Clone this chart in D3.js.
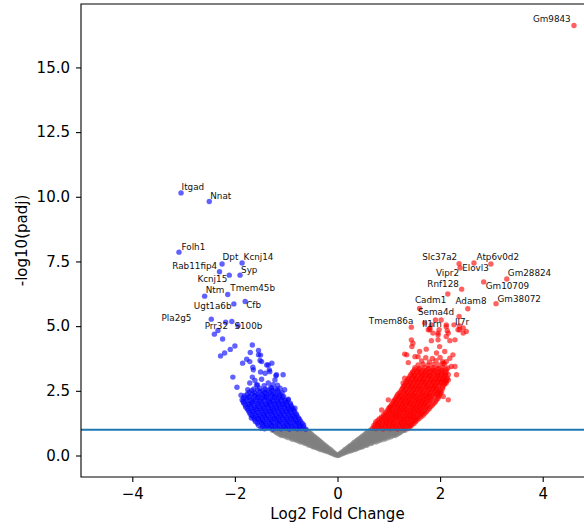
<!DOCTYPE html>
<html>
<head>
<meta charset="utf-8">
<script src="https://cdn.jsdelivr.net/npm/d3@7"></script>
<style>
body{margin:0;background:#fff;}
text{font-family:"DejaVu Sans",sans-serif;}
</style>
</head>
<body>
<div id="chart"></div>
<script>
// labelled genes (log2 fold change, -log10 padj, text position in data units)
var downNames=["Itgad","Nnat","Folh1","Dpt","Kcnj14","Rab11fip4","Syp","Kcnj15","Ntm","Tmem45b","Ugt1a6b","Cfb","Pla2g5","Prr32","S100b"];
var downLfc=[-3.05,-2.50,-3.09,-2.25,-1.86,-2.30,-1.90,-2.11,-2.59,-2.14,-2.02,-1.80,-2.46,-2.18,-2.06];
var downNlp=[10.15,9.82,7.86,7.40,7.44,7.10,6.97,6.97,6.16,6.22,5.86,5.95,5.27,5.15,5.18];
var downTextX=[-3.04,-2.48,-3.04,-2.24,-1.83,-3.22,-1.88,-2.73,-2.57,-2.09,-2.80,-1.78,-3.43,-2.59,-2.01];
var downTextY=[10.27,9.92,7.95,7.54,7.54,7.20,7.07,6.72,6.28,6.34,5.67,5.70,5.18,4.90,4.90];

var upNames=["Gm9843","Slc37a2","Atp6v0d2","Elovl3","Vipr2","Gm28824","Rnf128","Gm10709","Cadm1","Adam8","Gm38072","Sema4d","Tmem86a","Il1rn","Il7r"];
var upLfc=[4.61,2.37,2.99,2.66,2.39,3.30,2.42,2.85,2.15,2.54,3.09,1.60,1.44,2.02,2.45];
var upNlp=[16.62,7.41,7.40,7.44,7.25,6.82,6.43,6.71,6.24,5.67,5.87,5.68,4.96,5.24,4.93];
var upTextX=[3.81,1.65,2.71,2.43,1.92,3.32,1.75,2.89,1.51,2.30,3.12,1.57,0.61,1.65,2.29];
var upTextY=[16.74,7.54,7.54,7.14,6.92,6.92,6.53,6.44,5.89,5.85,5.94,5.44,5.08,4.96,5.05];

// not significant genes [lfc, -log10 padj]
var nsGenes=[
[0.00,0.00],[0.01,0.01],
[-0.04,0.04],[-0.05,0.03],[-0.07,0.10],[-0.11,0.09],[-0.14,0.11],
[-0.11,0.17],[-0.16,0.16],[-0.21,0.18],[-0.24,0.17],
[-0.15,0.24],[-0.20,0.23],[-0.25,0.25],[-0.30,0.24],[-0.34,0.23],
[-0.20,0.31],[-0.25,0.30],[-0.30,0.32],[-0.35,0.31],[-0.40,0.30],[-0.44,0.32],
[-0.24,0.38],[-0.30,0.37],[-0.36,0.39],[-0.42,0.38],[-0.48,0.37],[-0.53,0.39],
[-0.28,0.45],[-0.35,0.44],[-0.42,0.46],[-0.49,0.45],[-0.56,0.44],[-0.62,0.46],
[-0.33,0.52],[-0.40,0.51],[-0.47,0.53],[-0.54,0.52],[-0.61,0.51],[-0.67,0.53],[-0.72,0.52],
[-0.37,0.59],[-0.44,0.58],[-0.51,0.60],[-0.58,0.59],[-0.65,0.58],[-0.72,0.60],[-0.80,0.59],
[-0.41,0.66],[-0.48,0.65],[-0.55,0.67],[-0.62,0.66],[-0.69,0.65],[-0.76,0.67],[-0.83,0.66],[-0.90,0.65],
[-0.45,0.73],[-0.53,0.72],[-0.61,0.74],[-0.69,0.73],[-0.77,0.72],[-0.85,0.74],[-0.93,0.73],[-1.00,0.72],
[-0.50,0.80],[-0.58,0.79],[-0.66,0.81],[-0.74,0.80],[-0.82,0.79],[-0.90,0.81],[-0.98,0.80],[-1.06,0.79],[-1.12,0.81],
[-0.54,0.87],[-0.62,0.86],[-0.70,0.88],[-0.78,0.87],[-0.86,0.86],[-0.94,0.88],[-1.02,0.87],[-1.10,0.86],[-1.18,0.88],
[-0.58,0.94],[-0.66,0.93],[-0.74,0.95],[-0.82,0.94],[-0.90,0.93],[-0.98,0.95],[-1.06,0.94],[-1.14,0.93],[-1.22,0.95],[-1.27,0.98],
[-0.62,0.99],[-0.75,0.99],[-0.88,0.98],[-1.00,0.99],[-1.13,0.98],[-1.24,0.99],
[-0.05,0.07],[-0.09,0.07],[-0.09,0.14],[-0.13,0.13],[-0.18,0.14],
[-0.13,0.21],[-0.18,0.20],[-0.23,0.21],[-0.28,0.20],
[-0.18,0.28],[-0.23,0.27],[-0.28,0.28],[-0.33,0.27],[-0.38,0.28],
[-0.22,0.35],[-0.27,0.34],[-0.33,0.35],[-0.38,0.34],[-0.43,0.35],[-0.48,0.34],
[-0.27,0.42],[-0.33,0.41],[-0.39,0.42],[-0.45,0.41],[-0.51,0.42],[-0.57,0.41],
[-0.31,0.49],[-0.38,0.48],[-0.45,0.49],[-0.52,0.48],[-0.59,0.49],[-0.65,0.48],
[-0.35,0.56],[-0.42,0.55],[-0.49,0.56],[-0.56,0.55],[-0.63,0.56],[-0.70,0.55],[-0.76,0.56],
[-0.39,0.63],[-0.46,0.62],[-0.53,0.63],[-0.60,0.62],[-0.67,0.63],[-0.74,0.62],[-0.81,0.63],[-0.86,0.62],
[-0.44,0.70],[-0.51,0.69],[-0.58,0.70],[-0.65,0.69],[-0.73,0.70],[-0.81,0.69],[-0.89,0.70],[-0.96,0.69],
[-0.48,0.77],[-0.56,0.76],[-0.64,0.77],[-0.72,0.76],[-0.80,0.77],[-0.88,0.76],[-0.96,0.77],[-1.04,0.76],[-1.09,0.77],
[-0.52,0.84],[-0.60,0.83],[-0.68,0.84],[-0.76,0.83],[-0.84,0.84],[-0.92,0.83],[-1.00,0.84],[-1.08,0.83],[-1.15,0.84],
[-0.56,0.91],[-0.64,0.90],[-0.72,0.91],[-0.80,0.90],[-0.88,0.91],[-0.96,0.90],[-1.04,0.91],[-1.12,0.90],[-1.20,0.91],
[-0.60,0.97],[-0.68,0.96],[-0.76,0.97],[-0.84,0.96],[-0.92,0.97],[-1.00,0.96],[-1.08,0.97],[-1.16,0.96],[-1.24,0.97],
[0.03,0.04],[0.05,0.03],[0.07,0.10],[0.11,0.09],[0.14,0.11],
[0.12,0.17],[0.17,0.16],[0.21,0.18],[0.25,0.17],
[0.16,0.24],[0.21,0.23],[0.26,0.25],[0.31,0.24],[0.35,0.23],
[0.21,0.31],[0.26,0.30],[0.31,0.32],[0.36,0.31],[0.41,0.30],[0.45,0.32],
[0.25,0.38],[0.31,0.37],[0.37,0.39],[0.43,0.38],[0.49,0.37],[0.55,0.39],
[0.30,0.45],[0.37,0.44],[0.44,0.46],[0.51,0.45],[0.58,0.44],[0.65,0.46],
[0.34,0.52],[0.41,0.51],[0.48,0.53],[0.55,0.52],[0.62,0.51],[0.69,0.53],[0.75,0.52],
[0.39,0.59],[0.46,0.58],[0.53,0.60],[0.60,0.59],[0.67,0.58],[0.74,0.60],[0.83,0.59],
[0.44,0.66],[0.51,0.65],[0.58,0.67],[0.65,0.66],[0.72,0.65],[0.79,0.67],[0.86,0.66],[0.94,0.65],
[0.48,0.73],[0.56,0.72],[0.64,0.74],[0.72,0.73],[0.80,0.72],[0.88,0.74],[0.96,0.73],[1.04,0.72],
[0.53,0.80],[0.61,0.79],[0.69,0.81],[0.77,0.80],[0.85,0.79],[0.93,0.81],[1.01,0.80],[1.09,0.79],[1.15,0.81],
[0.57,0.87],[0.65,0.86],[0.73,0.88],[0.81,0.87],[0.89,0.86],[0.97,0.88],[1.05,0.87],[1.13,0.86],[1.21,0.88],
[0.62,0.94],[0.70,0.93],[0.78,0.95],[0.86,0.94],[0.94,0.93],[1.02,0.95],[1.10,0.94],[1.18,0.93],[1.26,0.95],[1.32,0.98],
[0.66,0.99],[0.79,0.99],[0.92,0.98],[1.05,0.99],[1.18,0.98],[1.30,0.99],
[0.05,0.07],[0.09,0.07],[0.09,0.14],[0.14,0.13],[0.19,0.14],
[0.14,0.21],[0.19,0.20],[0.24,0.21],[0.29,0.20],
[0.19,0.28],[0.24,0.27],[0.29,0.28],[0.34,0.27],[0.39,0.28],
[0.23,0.35],[0.28,0.34],[0.34,0.35],[0.39,0.34],[0.44,0.35],[0.49,0.34],
[0.28,0.42],[0.34,0.41],[0.40,0.42],[0.46,0.41],[0.52,0.42],[0.58,0.41],
[0.32,0.49],[0.39,0.48],[0.46,0.49],[0.53,0.48],[0.60,0.49],[0.67,0.48],
[0.37,0.56],[0.44,0.55],[0.51,0.56],[0.58,0.55],[0.65,0.56],[0.72,0.55],[0.79,0.56],
[0.41,0.63],[0.48,0.62],[0.55,0.63],[0.62,0.62],[0.69,0.63],[0.76,0.62],[0.83,0.63],[0.89,0.62],
[0.46,0.70],[0.53,0.69],[0.60,0.70],[0.67,0.69],[0.75,0.70],[0.83,0.69],[0.91,0.70],[0.99,0.69],
[0.50,0.77],[0.58,0.76],[0.66,0.77],[0.74,0.76],[0.82,0.77],[0.90,0.76],[0.98,0.77],[1.06,0.76],[1.12,0.77],
[0.55,0.84],[0.63,0.83],[0.71,0.84],[0.79,0.83],[0.87,0.84],[0.95,0.83],[1.03,0.84],[1.11,0.83],[1.18,0.84],
[0.59,0.91],[0.67,0.90],[0.75,0.91],[0.83,0.90],[0.91,0.91],[0.99,0.90],[1.07,0.91],[1.15,0.90],[1.23,0.91],
[0.64,0.97],[0.72,0.96],[0.80,0.97],[0.88,0.96],[0.96,0.97],[1.04,0.96],[1.12,0.97],[1.20,0.96],[1.28,0.97]
];

// down-regulated genes, unlabelled
var downGenes=[
[-1.49,1.05],[-1.42,1.03],[-1.33,1.06],[-1.26,1.02],[-1.17,1.05],[-1.10,1.03],[-1.01,1.06],[-0.94,1.02],[-0.85,1.05],[-0.78,1.03],[-0.70,1.04],[-0.62,1.02],
[-1.46,1.11],[-1.37,1.09],[-1.29,1.12],[-1.21,1.10],[-1.13,1.08],[-1.05,1.11],[-0.97,1.10],[-0.89,1.12],[-0.81,1.09],[-0.74,1.11],[-0.66,1.10],
[-1.54,1.17],[-1.45,1.20],[-1.38,1.16],[-1.29,1.19],[-1.21,1.17],[-1.14,1.21],[-1.05,1.16],[-0.97,1.19],[-0.90,1.17],[-0.81,1.20],[-0.73,1.16],[-0.66,1.18],
[-1.56,1.25],[-1.48,1.27],[-1.40,1.24],[-1.32,1.26],[-1.24,1.25],[-1.16,1.27],[-1.08,1.24],[-1.00,1.26],[-0.92,1.25],[-0.84,1.27],[-0.76,1.24],[-0.69,1.25],
[-1.60,1.31],[-1.51,1.34],[-1.44,1.30],[-1.35,1.33],[-1.28,1.31],[-1.19,1.35],[-1.12,1.30],[-1.03,1.33],[-0.96,1.31],[-0.87,1.34],[-0.80,1.30],[-0.72,1.32],
[-1.62,1.39],[-1.54,1.41],[-1.46,1.38],[-1.38,1.40],[-1.30,1.39],[-1.22,1.41],[-1.14,1.38],[-1.06,1.40],[-0.98,1.39],[-0.90,1.41],[-0.82,1.38],[-0.74,1.39],
[-1.63,1.47],[-1.56,1.44],[-1.47,1.48],[-1.40,1.45],[-1.31,1.47],[-1.24,1.44],[-1.15,1.48],[-1.08,1.45],[-0.99,1.47],[-0.92,1.44],[-0.83,1.48],[-0.76,1.45],
[-1.67,1.53],[-1.59,1.55],[-1.51,1.52],[-1.43,1.54],[-1.35,1.53],[-1.27,1.55],[-1.19,1.52],[-1.11,1.54],[-1.03,1.53],[-0.95,1.55],[-0.87,1.52],[-0.79,1.53],
[-1.70,1.59],[-1.61,1.62],[-1.53,1.58],[-1.44,1.61],[-1.37,1.59],[-1.28,1.63],[-1.21,1.58],[-1.12,1.61],[-1.05,1.59],[-0.96,1.62],[-0.88,1.58],[-0.80,1.60],
[-1.72,1.67],[-1.64,1.69],[-1.55,1.66],[-1.47,1.68],[-1.39,1.67],[-1.31,1.69],[-1.23,1.66],[-1.15,1.68],[-1.07,1.67],[-0.99,1.69],[-0.91,1.66],[-0.83,1.67],
[-1.74,1.75],[-1.66,1.72],[-1.57,1.76],[-1.49,1.73],[-1.40,1.75],[-1.33,1.72],[-1.24,1.76],[-1.17,1.73],[-1.08,1.75],[-1.01,1.72],[-0.92,1.76],[-0.85,1.73],
[-1.76,1.81],[-1.68,1.83],[-1.59,1.80],[-1.51,1.82],[-1.43,1.81],[-1.35,1.83],[-1.27,1.80],[-1.19,1.82],[-1.11,1.81],[-1.03,1.83],[-0.95,1.80],[-0.87,1.81],
[-1.79,1.87],[-1.70,1.90],[-1.62,1.86],[-1.53,1.89],[-1.45,1.87],[-1.36,1.91],[-1.29,1.86],[-1.20,1.89],[-1.13,1.87],[-1.04,1.90],[-0.97,1.86],[-0.89,1.88],
[-1.80,1.95],[-1.72,1.97],[-1.63,1.94],[-1.55,1.96],[-1.46,1.95],[-1.38,1.97],[-1.30,1.94],[-1.22,1.96],[-1.14,1.95],[-1.06,1.97],[-0.98,1.94],[-0.91,1.95],
[-1.83,2.03],[-1.74,2.00],[-1.66,2.04],[-1.57,2.01],[-1.48,2.03],[-1.40,2.00],[-1.31,2.04],[-1.24,2.01],[-1.15,2.03],[-1.08,2.00],[-0.99,2.04],[-0.92,2.02],
[-1.84,2.09],[-1.76,2.11],[-1.67,2.08],[-1.58,2.10],[-1.50,2.09],[-1.41,2.11],[-1.33,2.08],[-1.25,2.10],[-1.17,2.09],[-1.09,2.11],[-1.01,2.08],
[-1.86,2.15],[-1.77,2.18],[-1.67,2.14],[-1.59,2.17],[-1.50,2.15],[-1.42,2.19],[-1.34,2.14],[-1.27,2.17],[-1.18,2.15],[-1.10,2.18],[-1.02,2.14],
[-1.83,2.23],[-1.73,2.25],[-1.64,2.22],[-1.55,2.24],[-1.47,2.23],[-1.39,2.25],[-1.31,2.22],[-1.23,2.24],[-1.15,2.23],[-1.07,2.25],
[-1.81,2.31],[-1.71,2.28],[-1.62,2.32],[-1.54,2.29],[-1.45,2.31],[-1.38,2.28],[-1.29,2.32],[-1.21,2.29],[-1.13,2.31],[-1.05,2.28],
[-1.76,2.37],[-1.66,2.39],[-1.56,2.36],[-1.47,2.38],[-1.38,2.37],[-1.30,2.39],[-1.21,2.36],[-1.12,2.38],
[-1.72,2.45],[-1.61,2.42],[-1.51,2.46],[-1.42,2.43],[-1.34,2.45],[-1.25,2.42],[-1.16,2.46],[-1.08,2.43],
[-1.67,2.51],[-1.56,2.53],[-1.46,2.50],[-1.37,2.52],[-1.27,2.51],[-1.17,2.53],
[-1.63,2.57],[-1.52,2.60],[-1.41,2.56],[-1.29,2.59],[-1.21,2.57],[-1.12,2.60],
[-1.56,2.73],[-1.43,2.70],[-1.26,2.74],
[-2.33,4.83],[-2.40,4.69],[-2.24,4.50],[-2.00,4.23],[-2.09,4.10],[-2.20,3.96],[-2.28,3.85],[-1.66,4.27],[-1.70,3.98],[-1.54,4.06],
[-1.50,3.88],[-1.77,3.72],[-1.85,3.57],[-1.71,3.63],[-1.51,3.67],[-1.35,3.50],[-1.33,3.31],[-1.50,3.23],[-1.65,3.41],[-2.04,3.03],
[-1.66,3.03],[-1.61,2.90],[-1.48,2.95],[-1.20,3.08],[-1.06,3.12],[-1.30,2.63],[-1.17,2.72],[-1.96,2.64],[-1.75,2.54],[-1.88,2.33],
[-1.03,2.54],[-0.96,2.18],[-1.68,1.45],[-0.83,1.83],[-1.94,5.02],[-1.54,3.89],[-1.48,3.63],[-1.38,3.50],[-1.28,3.57],[-1.64,3.31],
[-1.41,3.18],[-1.32,3.24],[-1.19,3.12],[-1.71,2.80],[-1.58,2.73],[-1.35,2.80],[-1.22,2.92],[-0.96,2.15]
];

// up-regulated genes, unlabelled
var upGenes=[
[0.68,1.05],[0.75,1.03],[0.82,1.06],[0.89,1.02],[0.96,1.05],[1.03,1.03],[1.10,1.06],[1.17,1.02],[1.24,1.05],[1.31,1.03],[1.38,1.04],
[0.72,1.10],[0.79,1.12],[0.86,1.09],[0.93,1.11],[1.00,1.10],[1.07,1.12],[1.14,1.09],[1.21,1.11],[1.28,1.10],[1.35,1.12],[1.41,1.09],
[0.71,1.16],[0.78,1.19],[0.85,1.15],[0.92,1.18],[0.99,1.16],[1.06,1.20],[1.13,1.15],[1.20,1.18],[1.27,1.16],[1.34,1.19],[1.41,1.15],[1.45,1.18],
[0.74,1.23],[0.81,1.25],[0.88,1.22],[0.95,1.24],[1.02,1.23],[1.09,1.25],[1.16,1.22],[1.23,1.24],[1.30,1.23],[1.37,1.25],[1.44,1.22],[1.49,1.24],
[0.75,1.31],[0.82,1.28],[0.89,1.32],[0.96,1.29],[1.03,1.31],[1.10,1.28],[1.17,1.32],[1.24,1.29],[1.31,1.31],[1.38,1.28],[1.45,1.32],[1.52,1.30],
[0.79,1.36],[0.86,1.38],[0.93,1.35],[1.00,1.37],[1.07,1.36],[1.14,1.38],[1.21,1.35],[1.28,1.37],[1.35,1.36],[1.42,1.38],[1.49,1.35],[1.55,1.37],
[0.82,1.42],[0.89,1.45],[0.96,1.41],[1.03,1.44],[1.10,1.42],[1.17,1.46],[1.24,1.41],[1.31,1.44],[1.38,1.42],[1.45,1.45],[1.52,1.41],[1.59,1.43],
[0.86,1.49],[0.93,1.51],[1.00,1.48],[1.07,1.50],[1.14,1.49],[1.21,1.51],[1.28,1.48],[1.35,1.50],[1.42,1.49],[1.49,1.51],[1.56,1.48],[1.63,1.50],
[0.90,1.57],[0.97,1.54],[1.04,1.58],[1.11,1.55],[1.18,1.57],[1.25,1.54],[1.32,1.58],[1.39,1.55],[1.46,1.57],[1.53,1.54],[1.60,1.58],[1.67,1.56],
[0.93,1.62],[1.00,1.64],[1.07,1.61],[1.14,1.63],[1.21,1.62],[1.28,1.64],[1.35,1.61],[1.42,1.63],[1.49,1.62],[1.56,1.64],[1.63,1.61],[1.70,1.63],
[0.95,1.68],[1.02,1.71],[1.09,1.67],[1.16,1.70],[1.23,1.68],[1.30,1.72],[1.37,1.67],[1.44,1.70],[1.51,1.68],[1.58,1.71],[1.65,1.67],[1.73,1.69],
[0.98,1.75],[1.05,1.77],[1.12,1.74],[1.19,1.76],[1.26,1.75],[1.33,1.77],[1.40,1.74],[1.47,1.76],[1.54,1.75],[1.61,1.77],[1.68,1.74],[1.76,1.76],
[1.00,1.83],[1.07,1.80],[1.14,1.84],[1.21,1.81],[1.28,1.83],[1.35,1.80],[1.42,1.84],[1.49,1.81],[1.56,1.83],[1.63,1.80],[1.70,1.84],[1.79,1.82],
[1.03,1.88],[1.10,1.90],[1.17,1.87],[1.24,1.89],[1.31,1.88],[1.38,1.90],[1.45,1.87],[1.52,1.89],[1.59,1.88],[1.66,1.90],[1.73,1.87],[1.82,1.89],
[1.05,1.94],[1.12,1.97],[1.19,1.93],[1.26,1.96],[1.33,1.94],[1.40,1.98],[1.47,1.93],[1.54,1.96],[1.61,1.94],[1.68,1.97],[1.75,1.93],[1.85,1.95],
[1.07,2.01],[1.14,2.03],[1.21,2.00],[1.28,2.02],[1.35,2.01],[1.42,2.03],[1.49,2.00],[1.56,2.02],[1.63,2.01],[1.70,2.03],[1.77,2.00],[1.88,2.02],
[1.09,2.09],[1.16,2.06],[1.23,2.10],[1.30,2.07],[1.37,2.09],[1.44,2.06],[1.51,2.10],[1.58,2.07],[1.65,2.09],[1.72,2.06],[1.79,2.10],[1.91,2.08],
[1.11,2.14],[1.18,2.16],[1.25,2.13],[1.32,2.15],[1.39,2.14],[1.46,2.16],[1.53,2.13],[1.60,2.15],[1.67,2.14],[1.74,2.16],[1.81,2.13],[1.93,2.15],
[1.13,2.20],[1.20,2.23],[1.27,2.19],[1.34,2.22],[1.41,2.20],[1.48,2.24],[1.55,2.19],[1.62,2.22],[1.69,2.20],[1.76,2.23],[1.83,2.19],[1.96,2.21],
[1.15,2.27],[1.23,2.29],[1.30,2.26],[1.37,2.28],[1.44,2.27],[1.51,2.29],[1.58,2.26],[1.66,2.28],[1.73,2.27],[1.80,2.29],[1.88,2.26],[1.97,2.28],
[1.17,2.35],[1.25,2.32],[1.32,2.36],[1.40,2.33],[1.47,2.35],[1.55,2.32],[1.62,2.36],[1.70,2.33],[1.77,2.35],[1.85,2.32],[1.92,2.36],[1.99,2.34],
[1.20,2.40],[1.28,2.42],[1.35,2.39],[1.43,2.41],[1.50,2.40],[1.58,2.42],[1.65,2.39],[1.73,2.41],[1.80,2.40],[1.88,2.42],[1.95,2.39],[2.01,2.41],
[1.22,2.46],[1.30,2.49],[1.37,2.45],[1.45,2.48],[1.52,2.46],[1.60,2.50],[1.67,2.45],[1.75,2.48],[1.82,2.46],[1.90,2.49],[1.97,2.45],[2.03,2.47],
[1.25,2.54],[1.33,2.56],[1.40,2.53],[1.48,2.55],[1.55,2.54],[1.63,2.56],[1.70,2.53],[1.78,2.55],[1.85,2.54],[1.93,2.56],[2.00,2.53],
[1.27,2.61],[1.35,2.58],[1.42,2.62],[1.50,2.59],[1.57,2.61],[1.65,2.58],[1.72,2.62],[1.80,2.59],[1.87,2.61],[1.95,2.58],[2.05,2.60],
[1.29,2.67],[1.37,2.69],[1.44,2.66],[1.52,2.68],[1.59,2.67],[1.67,2.69],[1.74,2.66],[1.82,2.68],[1.89,2.67],[1.97,2.69],[2.05,2.66],
[1.31,2.72],[1.39,2.75],[1.46,2.71],[1.54,2.74],[1.61,2.72],[1.69,2.76],[1.76,2.71],[1.84,2.74],[1.91,2.72],[1.99,2.75],[2.08,2.73],
[1.33,2.80],[1.41,2.82],[1.48,2.79],[1.56,2.81],[1.63,2.80],[1.71,2.82],[1.78,2.79],[1.86,2.81],[1.93,2.80],[2.01,2.82],[2.09,2.79],
[1.35,2.87],[1.43,2.84],[1.50,2.88],[1.58,2.85],[1.65,2.87],[1.73,2.84],[1.80,2.88],[1.88,2.85],[1.95,2.87],[2.03,2.84],[2.11,2.86],
[1.37,2.93],[1.45,2.95],[1.52,2.92],[1.60,2.94],[1.67,2.93],[1.75,2.95],[1.82,2.92],[1.90,2.94],[1.97,2.93],[2.05,2.95],[2.12,2.92],
[1.39,2.98],[1.47,3.01],[1.54,2.97],[1.62,3.00],[1.69,2.98],[1.77,3.02],[1.84,2.97],[1.92,3.00],[1.99,2.98],[2.07,3.01],[2.14,2.99],
[1.41,3.06],[1.49,3.08],[1.56,3.05],[1.64,3.07],[1.71,3.06],[1.79,3.08],[1.86,3.05],[1.94,3.07],[2.01,3.06],[2.09,3.08],
[1.43,3.13],[1.51,3.10],[1.58,3.14],[1.66,3.11],[1.73,3.13],[1.81,3.10],[1.88,3.14],[1.96,3.11],[2.03,3.13],[2.11,3.10],[2.16,3.12],
[1.46,3.19],[1.54,3.21],[1.62,3.18],[1.70,3.20],[1.78,3.19],[1.86,3.21],[1.94,3.18],[2.02,3.20],[2.10,3.19],
[1.47,3.24],[1.56,3.27],[1.64,3.23],[1.72,3.26],[1.80,3.24],[1.88,3.28],[1.96,3.23],[2.04,3.26],[2.12,3.24],
[1.50,3.32],[1.59,3.34],[1.68,3.31],[1.77,3.33],[1.86,3.32],[1.95,3.34],[2.04,3.31],[2.12,3.33],
[1.51,3.39],[1.60,3.36],[1.69,3.40],[1.78,3.37],[1.87,3.39],[1.96,3.36],[2.05,3.40],[2.15,3.38],
[1.57,3.50],[1.67,3.53],[1.77,3.49],[1.87,3.52],[1.97,3.50],[2.08,3.53],
[1.64,3.65],[1.79,3.62],[1.92,3.66],[2.05,3.63],
[1.72,3.78],[1.85,3.75],[2.00,3.79],
[1.44,4.47],[1.45,4.21],[1.31,3.92],[1.38,3.59],[0.99,2.15],[1.02,1.87],[0.86,1.76],[1.73,4.11],[1.83,4.44],[1.96,4.47],
[1.99,4.21],[2.09,4.02],[2.19,3.76],[2.12,3.63],[2.29,3.44],[2.32,3.12],[2.16,2.92],[2.06,3.57],[1.96,4.73],[1.77,4.86],
[1.83,5.05],[2.16,4.73],[2.12,4.98],[2.38,4.86],[2.51,4.79],[1.93,3.96],[1.60,4.02],[1.57,3.82],[2.16,2.15],[2.06,2.28],
[1.91,5.24],[2.37,5.37],[2.27,5.05],[2.12,5.05],[1.98,4.86],[2.14,4.82],[2.35,4.86],[1.80,4.86],[1.70,5.12],[2.19,4.44],
[2.38,5.01],[1.80,4.92],[1.96,4.66],[1.86,4.73],[2.12,4.60],[2.29,4.47],[2.45,4.73],[2.25,3.89],[2.22,3.44],[2.12,2.80],
[2.06,2.92],[1.47,4.34],[1.35,3.89],[1.31,2.99],[1.28,2.80],[1.51,3.82]
];

var xTicks=[-4,-2,0,2,4];
var yTicks=[0,2.5,5,7.5,10,12.5,15];
var padjCut=1;

var width=584, height=529;
var plotLeft=81, plotRight=594, plotTop=4, plotBottom=477;

var svg=d3.select("#chart").append("svg")
  .attr("width",width)
  .attr("height",height)
  .style("display","block");

var allY=nsGenes.map(function(d){return d[1];})
  .concat(downGenes.map(function(d){return d[1];}))
  .concat(upGenes.map(function(d){return d[1];}))
  .concat(downNlp).concat(upNlp);
var yExt=d3.extent(allY);
var yPad=(yExt[1]-yExt[0])*0.05;

var x=d3.scaleLinear().domain([-5,5]).range([plotLeft,plotRight]);
var y=d3.scaleLinear().domain([yExt[0]-yPad,yExt[1]+yPad]).range([plotBottom,plotTop]);

// points
function drawPoints(data,color){
  svg.append("g").selectAll("circle")
    .data(data)
    .enter()
    .append("circle")
    .attr("cx",function(d){return x(d[0]);})
    .attr("cy",function(d){return y(d[1]);})
    .attr("r",2.7)
    .attr("fill",color)
    .attr("fill-opacity",0.62);
}
drawPoints(nsGenes,"grey");
drawPoints(downGenes.concat(downLfc.map(function(v,i){return [v,downNlp[i]];})),"blue");
drawPoints(upGenes.concat(upLfc.map(function(v,i){return [v,upNlp[i]];})),"red");

// threshold line
svg.append("line")
  .attr("x1",plotLeft).attr("x2",plotRight)
  .attr("y1",y(padjCut)).attr("y2",y(padjCut))
  .attr("stroke","#1f77b4")
  .attr("stroke-width",2);

// gene labels
function drawLabels(names,tx,ty){
  svg.append("g").selectAll("text")
    .data(names)
    .enter()
    .append("text")
    .text(function(d){return d;})
    .attr("x",function(d,i){return x(tx[i]);})
    .attr("y",function(d,i){return y(ty[i]);})
    .attr("font-size",8.8)
    .attr("fill","#111");
}
drawLabels(downNames,downTextX,downTextY);
drawLabels(upNames,upTextX,upTextY);

// axes
var xAxis=svg.append("g")
  .attr("transform","translate(0,"+plotBottom+")")
  .call(d3.axisBottom(x).tickValues(xTicks).tickSize(5).tickPadding(6).tickSizeOuter(0));
var yAxis=svg.append("g")
  .attr("transform","translate("+plotLeft+",0)")
  .call(d3.axisLeft(y).tickValues(yTicks).tickSize(5).tickPadding(6).tickSizeOuter(0).tickFormat(d3.format(".1f")));
[xAxis,yAxis].forEach(function(a){
  a.select(".domain").remove();
  a.selectAll("text").attr("font-size",15).attr("font-family","DejaVu Sans").attr("fill","#000");
  a.selectAll("line").attr("stroke","#000").attr("stroke-width",1.1);
});

// frame
svg.append("path")
  .attr("d","M"+plotRight+","+plotTop+"H"+plotLeft+"V"+plotBottom+"H"+plotRight)
  .attr("fill","none")
  .attr("stroke","#000")
  .attr("stroke-width",1.1);

// axis titles
svg.append("text")
  .text("Log2 Fold Change")
  .attr("x",(plotLeft+plotRight)/2)
  .attr("y",519)
  .attr("text-anchor","middle")
  .attr("font-size",15)
  .attr("fill","#000");
svg.append("text")
  .text("-log10(padj)")
  .attr("transform","translate(27,"+((plotTop+plotBottom)/2)+") rotate(-90)")
  .attr("text-anchor","middle")
  .attr("font-size",15)
  .attr("fill","#000");
</script>
</body>
</html>
